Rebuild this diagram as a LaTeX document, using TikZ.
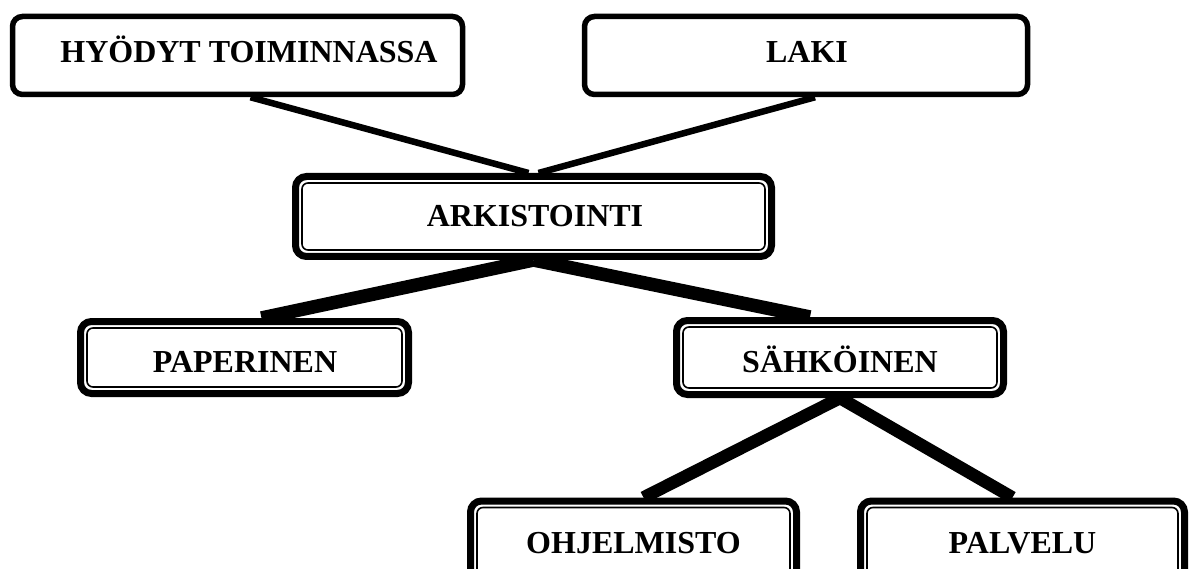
\documentclass[tikz,border=0pt]{standalone}
\usepackage{fontspec}
\setmainfont{Liberation Serif}
\usetikzlibrary{calc}
\tikzset{
  every node/.style={font=\bfseries\fontsize{32}{38}\selectfont, inner sep=0pt},
  lbl/.style={anchor=base},
  singlebox/.style={draw=black, line width=5.5pt, rounded corners=10pt, fill=white},
  dblbox/.style={draw=black, line width=7pt, rounded corners=11pt, fill=white,
    path picture={\draw[line width=1.6pt, rounded corners=6pt]
      ([shift={(6.5pt,-6.5pt)}]path picture bounding box.north west) rectangle
      ([shift={(-6.5pt,6.5pt)}]path picture bounding box.south east);}},
  thinlink/.style={line width=6.5pt},
  thicklink/.style={line width=13.5pt},
  lowlink/.style={line width=12.5pt},
}
\begin{document}
\begin{tikzpicture}[x=1pt,y=-1pt]
\useasboundingbox (0,0) rectangle (1196,569);
\node[singlebox, minimum width=450pt, minimum height=78pt] (hyo) at (237.5,55.5) {};
\node[lbl] (thyo) at (249,63) {HYÖDYT TOIMINNASSA};
\node[singlebox, minimum width=443pt, minimum height=78pt] (laki) at (806,55.5) {};
\node[lbl] (tlaki) at (807,63) {LAKI};
\node[dblbox, minimum width=476pt, minimum height=80pt] (ark) at (533.5,216.5) {};
\node[lbl] (tark) at (535,227) {ARKISTOINTI};
\node[dblbox, minimum width=328pt, minimum height=72pt] (pap) at (244.5,357.5) {};
\node[lbl] (tpap) at (245,372) {PAPERINEN};
\node[dblbox, minimum width=327pt, minimum height=74pt] (sah) at (840,357.5) {};
\node[lbl] (tsah) at (840,372) {SÄHKÖINEN};
\node[dblbox, minimum width=326pt, minimum height=80pt] (ohj) at (633.5,541) {};
\node[lbl] (tohj) at (633.5,553) {OHJELMISTO};
\node[dblbox, minimum width=324pt, minimum height=80pt] (pal) at (1022.5,541) {};
\node[lbl] (tpal) at (1022.5,553) {PALVELU};
\draw[thinlink] ([xshift=13pt]hyo.south) -- ([xshift=-5pt]ark.north);
\draw[thinlink] ([xshift=9pt]laki.south) -- ([xshift=5pt]ark.north);
\draw[thicklink] (ark.south) -- ([xshift=17pt]pap.north);
\draw[thicklink] (ark.south) -- ([xshift=-30pt]sah.north);
\draw[lowlink] (sah.south) -- ([xshift=10pt]ohj.north);
\draw[lowlink] (sah.south) -- ([xshift=-10pt]pal.north);
\end{tikzpicture}
\end{document}
